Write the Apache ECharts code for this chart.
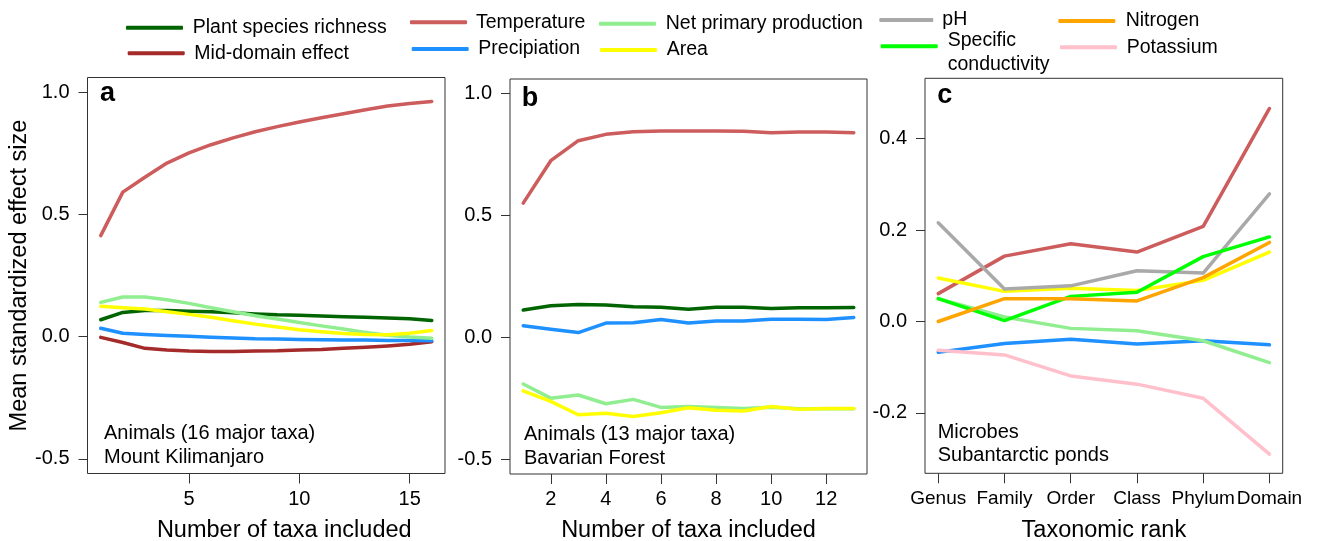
<!DOCTYPE html>
<html>
<head>
<meta charset="utf-8">
<script src="https://cdn.jsdelivr.net/npm/echarts@6/dist/echarts.min.js"></script>
<style>
html,body{margin:0;padding:0;background:#fff;}
#chart{width:1324px;height:541px;}
</style>
</head>
<body>
<div id="chart"></div>
<script>
// ---------- data ----------
const xA = [1,2,3,4,5,6,7,8,9,10,11,12,13,14,15,16];
const aPlant = [0.069,0.099,0.107,0.107,0.104,0.102,0.098,0.093,0.089,0.087,0.084,0.081,0.079,0.076,0.073,0.066];
const aMDE   = [-0.003,-0.024,-0.048,-0.055,-0.059,-0.061,-0.061,-0.059,-0.058,-0.055,-0.053,-0.048,-0.044,-0.038,-0.031,-0.021];
const aTemp  = [0.413,0.591,0.652,0.710,0.752,0.785,0.813,0.838,0.859,0.878,0.895,0.912,0.928,0.943,0.954,0.962];
const aPrec  = [0.034,0.014,0.009,0.005,0.001,-0.003,-0.006,-0.009,-0.010,-0.012,-0.013,-0.014,-0.014,-0.016,-0.016,-0.017];
const aNPP   = [0.140,0.162,0.162,0.151,0.136,0.118,0.102,0.085,0.072,0.058,0.044,0.031,0.017,0.006,-0.002,-0.007];
const aArea  = [0.124,0.118,0.113,0.102,0.091,0.079,0.065,0.051,0.039,0.028,0.020,0.013,0.009,0.008,0.014,0.025];

const xB = [1,2,3,4,5,6,7,8,9,10,11,12,13];
const bPlant = [0.113,0.130,0.135,0.133,0.126,0.124,0.116,0.124,0.124,0.119,0.122,0.122,0.123];
const bTemp  = [0.551,0.725,0.807,0.833,0.844,0.847,0.847,0.847,0.846,0.840,0.843,0.843,0.840];
const bPrec  = [0.048,0.034,0.020,0.059,0.060,0.074,0.059,0.067,0.067,0.075,0.075,0.074,0.082];
const bNPP   = [-0.191,-0.249,-0.236,-0.272,-0.254,-0.287,-0.283,-0.287,-0.291,-0.286,-0.292,-0.292,-0.292];
const bArea  = [-0.219,-0.262,-0.317,-0.311,-0.324,-0.309,-0.288,-0.299,-0.302,-0.283,-0.294,-0.291,-0.291];

const ranks = ['Genus','Family','Order','Class','Phylum','Domain'];
const xC = [1,2,3,4,5,6];
const cTemp = [0.061,0.143,0.170,0.152,0.208,0.466];
const cPrec = [-0.067,-0.048,-0.039,-0.049,-0.042,-0.051];
const cNPP  = [0.050,0.010,-0.015,-0.020,-0.042,-0.090];
const cArea = [0.095,0.066,0.073,0.068,0.090,0.152];
const cPH   = [0.216,0.071,0.078,0.111,0.106,0.279];
const cCond = [0.050,0.002,0.055,0.064,0.142,0.185];
const cN    = [0.000,0.050,0.050,0.045,0.096,0.173];
const cK    = [-0.063,-0.073,-0.119,-0.137,-0.168,-0.290];

const ticksXA = [5,10,15];
const ticksXB = [2,4,6,8,10,12];
const ticksXC = [1,2,3,4,5,6];
const ticksYAB = [-0.5,0,0.5,1.0];
const ticksYC = [-0.2,0,0.2,0.4];

// ---------- styling ----------
const FONT = 'Liberation Sans, Arial, Helvetica, sans-serif';
const COL = {
  'Plant species richness':'#006400',
  'Mid-domain effect':'#A52A2A',
  'Temperature':'#CD5C5C',
  'Precipiation':'#1E90FF',
  'Net primary production':'#90EE90',
  'Area':'#FFFF00',
  'pH':'#A9A9A9',
  'Specific conductivity':'#00FF00',
  'Nitrogen':'#FFA500',
  'Potassium':'#FFC0CB'
};
function ser(name, xs, ys, gi){
  return {
    name: name, type:'line', xAxisIndex: gi, yAxisIndex: gi,
    data: xs.map((x,i)=>[x, ys[i]]),
    showSymbol:false, symbol:'none', silent:true,
    color: COL[name],
    lineStyle:{width:3.5, color: COL[name], cap:'round', join:'round'},
    itemStyle:{color: COL[name]}
  };
}
const grids = [
  {left:87.5, top:77.5, width:357.5, height:396},
  {left:510, top:79, width:357, height:395},
  {left:925, top:78.3, width:357.7, height:395}
];
function xAxis(gi, min, max, ticks, fmt, name, namePad, fs){
  return {
    type:'value', gridIndex:gi, min:min, max:max, position:'bottom',
    splitLine:{show:false},
    axisLine:{show:false, onZero:false},
    axisTick:{show:true, inside:false, length:10, customValues:ticks, lineStyle:{color:'#333', width:1}},
    axisLabel:{show:true, customValues:ticks, formatter:fmt, margin:15.5, fontSize:fs, color:'#000', fontFamily:FONT,
      showMinLabel:true, showMaxLabel:true, hideOverlap:false},
    name:name, nameLocation:'middle', nameGap:45,
    nameTextStyle:{fontSize:23.5, color:'#000', fontFamily:FONT, padding:namePad}
  };
}
function yAxis(gi, min, max, ticks, name){
  const o = {
    type:'value', gridIndex:gi, min:min, max:max, position:'left',
    splitLine:{show:false},
    axisLine:{show:false, onZero:false},
    axisTick:{show:true, inside:false, length:9, customValues:ticks, lineStyle:{color:'#333', width:1}},
    axisLabel:{show:true, customValues:ticks, formatter:(v)=>v.toFixed(1), margin:18, fontSize:20, color:'#000', fontFamily:FONT}
  };
  if (name){
    o.name = name; o.nameLocation='middle'; o.nameGap=56; o.nameRotate=90;
    o.nameTextStyle = {fontSize:23.5, color:'#000', fontFamily:FONT};
  }
  return o;
}
// legend items: [name, iconLeft, iconCenterY, padLeft, itemWidth]
const legendItems = [
  ['Plant species richness',126,27.7,4.7,57],
  ['Mid-domain effect',127.7,53.3,4.6,57],
  ['Temperature',410,22.3,4,57],
  ['Precipiation',411.7,49,4.6,57],
  ['Net primary production',599,23.7,4.7,57],
  ['Area',600,50,4.7,57],
  ['pH',879.3,20,4,54],
  ['Specific conductivity',880.7,45.7,5,57],
  ['Nitrogen',1058.3,21,5.4,57],
  ['Potassium',1060,47.3,4.7,57]
];
const legends = legendItems.map(function(it){
  const multi = it[0] === 'Specific conductivity';
  const o = {
    data:[it[0]], left: it[1], top: multi ? it[2]-27.5 : it[2]-10,
    orient:'vertical', padding:0, itemWidth: it[4], itemHeight:4, icon:'roundRect',
    selectedMode:false,
    textStyle:{fontSize:19.5, color:'#000', fontFamily:FONT, lineHeight: multi?6:20,
      padding:[0,0,0,it[3]]}
  };
  // two-line label: "Specific" sits above the line, "conductivity" below it
  if (multi) o.formatter = function(){ return '\n\nSpecific\n\n\n\nconductivity'; };
  return o;
});
const txt = (t,x,y,size,bold)=>({type:'text', silent:true, style:{text:t, x:x, y:y, fill:'#000',
  font:(bold?'bold ':'')+size+'px '+FONT, verticalAlign:'middle', textAlign:'left'}});

const option = {
  animation:false,
  backgroundColor:'#fff',
  legend: legends,
  grid: grids.map(g=>Object.assign({show:true, borderColor:'#333', borderWidth:1, backgroundColor:'transparent',
    containLabel:false, outerBoundsMode:'none'}, g)),
  xAxis:[
    xAxis(0,0.4,16.6,ticksXA,(v)=>String(v),'Number of taxa included',[0,0,0,36],20),
    xAxis(1,0.52,13.48,ticksXB,(v)=>String(v),'Number of taxa included',[0,0,0,0],20),
    xAxis(2,0.8,6.2,ticksXC,(v)=>ranks[Math.round(v)-1],'Taxonomic rank',[0,0,0,0],19)
  ],
  yAxis:[
    yAxis(0,-0.56,1.06,ticksYAB,'Mean standardized effect size'),
    yAxis(1,-0.56,1.06,ticksYAB,null),
    yAxis(2,-0.332,0.532,ticksYC,null)
  ],
  graphic:[
    txt('a',100,93.8,27,true),
    txt('b',521.7,98.5,27,true),
    txt('c',937.3,95.5,27,true),
    txt('Animals (16 major taxa)',104,433.5,20,false),
    txt('Mount Kilimanjaro',104,457,20,false),
    txt('Animals (13 major taxa)',524,434.5,20,false),
    txt('Bavarian Forest',524,458,20,false),
    txt('Microbes',937.7,432,20,false),
    txt('Subantarctic ponds',937.7,455.8,20,false)
  ],
  series:[
    ser('Plant species richness',xA,aPlant,0),
    ser('Mid-domain effect',xA,aMDE,0),
    ser('Temperature',xA,aTemp,0),
    ser('Precipiation',xA,aPrec,0),
    ser('Net primary production',xA,aNPP,0),
    ser('Area',xA,aArea,0),
    ser('Plant species richness',xB,bPlant,1),
    ser('Temperature',xB,bTemp,1),
    ser('Precipiation',xB,bPrec,1),
    ser('Net primary production',xB,bNPP,1),
    ser('Area',xB,bArea,1),
    ser('Temperature',xC,cTemp,2),
    ser('Precipiation',xC,cPrec,2),
    ser('Net primary production',xC,cNPP,2),
    ser('Area',xC,cArea,2),
    ser('pH',xC,cPH,2),
    ser('Specific conductivity',xC,cCond,2),
    ser('Nitrogen',xC,cN,2),
    ser('Potassium',xC,cK,2)
  ]
};
const chart = echarts.init(document.getElementById('chart'), null, {renderer:'canvas'});
chart.setOption(option);
</script>
</body>
</html>
